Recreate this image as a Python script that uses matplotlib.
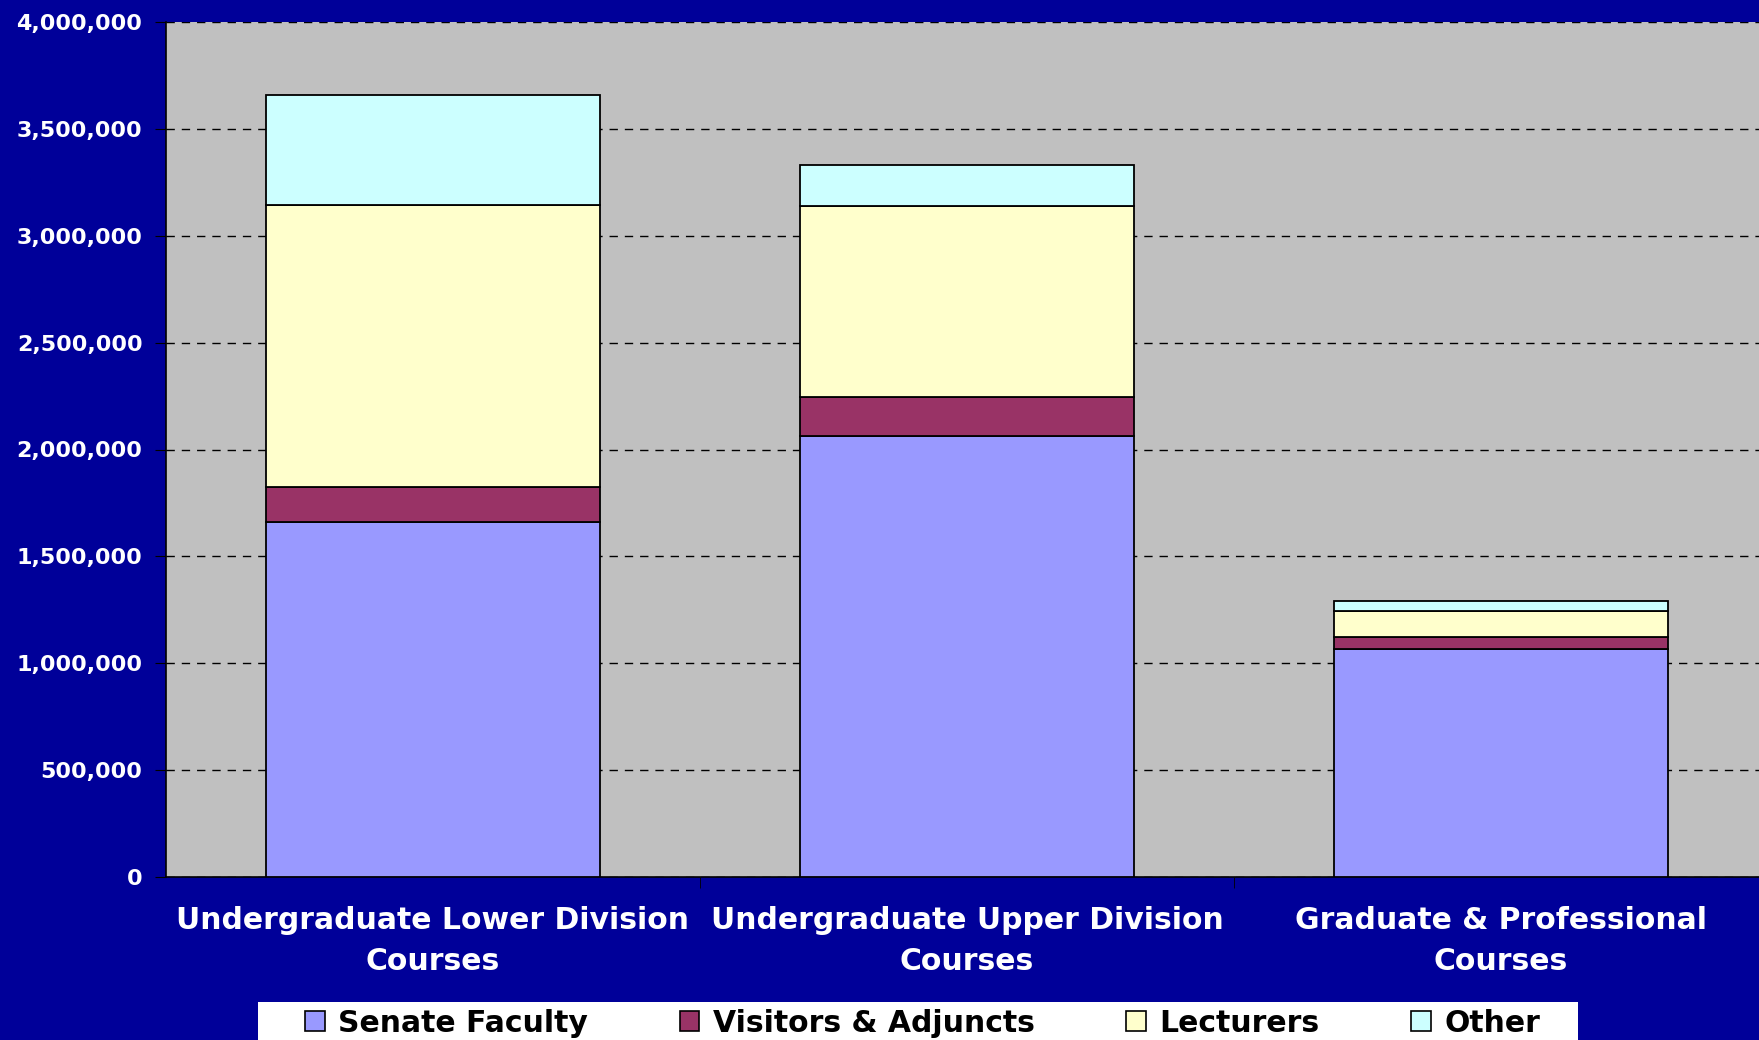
import matplotlib
matplotlib.use("Agg")
import matplotlib.pyplot as plt
from matplotlib.patches import Patch, Rectangle
from matplotlib.ticker import FuncFormatter
import numpy as np

categories = ["Undergraduate Lower Division\nCourses",
              "Undergraduate Upper Division\nCourses",
              "Graduate & Professional\nCourses"]
series_names = ["Senate Faculty", "Visitors & Adjuncts", "Lecturers", "Other"]
senate = [1663000, 2061000, 1067000]
visitors = [162000, 184000, 56000]
lecturers = [1317000, 892000, 123000]
other = [515000, 194000, 44000]
colors = ["#9999FF", "#993366", "#FFFFCC", "#CCFFFF"]

plt.rcParams['font.family'] = ['DejaVu Sans']

W, H = 1759, 1040
fig = plt.figure(figsize=(W/100, H/100), dpi=100)
fig.patch.set_facecolor("#000099")
ax = fig.add_axes([166/W, 1-877/H, 1602/W, (877-22)/H])
ax.set_facecolor("#C0C0C0")

x = np.arange(len(categories))
bottom = np.zeros(len(categories))
for vals, c in zip([senate, visitors, lecturers, other], colors):
    ax.bar(x, vals, width=0.625, bottom=bottom, color=c, edgecolor="black",
           linewidth=1.3, zorder=3)
    bottom += np.array(vals)

ax.set_xlim(-0.5, len(categories) - 0.5)
ax.set_ylim(0, 4000000)
ax.set_yticks(np.arange(0, 4000001, 500000))
ax.yaxis.set_major_formatter(FuncFormatter(lambda v, p: f"{int(v):,}"))
ax.grid(axis="y", color="black", linestyle=(0, (6, 5)), linewidth=1.0, zorder=1)
ax.set_axisbelow(True)

ax.set_xticks(x)
ax.set_xticklabels(categories, color="white", fontweight="bold", fontsize=21.5,
                   linespacing=1.5)
ax.set_xticks([0.5, 1.5], minor=True)
ax.tick_params(axis="x", which="major", length=0, pad=21)
ax.tick_params(axis="x", which="minor", length=8, color="black", direction="out")
ax.tick_params(axis="y", length=8, color="black", direction="out", pad=9,
               labelcolor="white", labelsize=16)
for lbl in ax.get_yticklabels():
    lbl.set_fontweight("bold")

for s in ["top", "right"]:
    ax.spines[s].set_visible(False)
ax.spines["left"].set_color("black")
ax.spines["bottom"].set_color("black")
ax.spines["left"].set_linewidth(1.2)
ax.spines["bottom"].set_linewidth(1.2)

# white legend band
fig.patches.append(Rectangle((258/W, 0), (1578-258)/W, (H-1002)/H,
                             transform=fig.transFigure, facecolor="white",
                             edgecolor="none", zorder=0))

handles = [Patch(facecolor=c, edgecolor="black", linewidth=1.2) for c in colors]
leg = fig.legend(handles, series_names, loc="center left", ncol=4,
                 bbox_to_anchor=(305/W, 1-1023/H),
                 frameon=False, prop={"weight": "bold", "size": 21.5},
                 handlelength=0.66, handleheight=0.66, handletextpad=0.45,
                 columnspacing=3.07, borderaxespad=0, borderpad=0)
for t in leg.get_texts():
    t.set_color("black")

fig.savefig("out.png", dpi=100, facecolor=fig.get_facecolor())
